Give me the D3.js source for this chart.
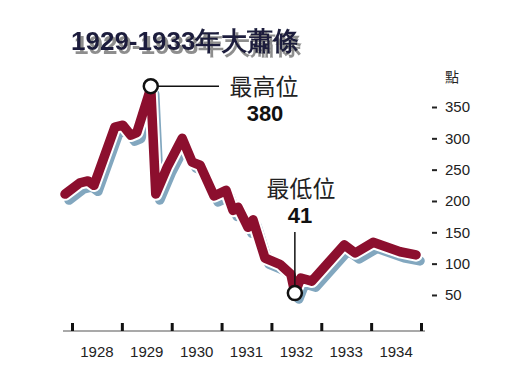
<!DOCTYPE html>
<html><head><meta charset="utf-8">
<script src="https://cdn.jsdelivr.net/npm/d3@7"></script>
<style>
html,body{margin:0;padding:0;background:#fff;}
svg{display:block;}
</style></head>
<body>
<svg id="c" width="530" height="366"></svg>
<script>
// ---- data ----
const title = "1929-1933年大蕭條";
const unitLabel = "點";
const dates = [1927.86,1928.16,1928.32,1928.44,1928.86,1929.02,1929.18,1929.30,1929.58,1929.68,1929.91,1930.21,1930.41,1930.57,1930.85,1931.09,1931.23,1931.33,1931.53,1931.63,1931.87,1932.17,1932.39,1932.47,1932.59,1932.81,1933.46,1933.68,1934.04,1934.58,1934.90];
const values = [211,229,232,225,318,321,305,309,380,211,254,300,262,257,208,217,185,190,158,170,109,99,83,53,77,72,130,117,134,119,114];
const yearTicks = [1928,1929,1930,1931,1932,1933,1934,1935];
const yearLabels = ["1928","1929","1930","1931","1932","1933","1934"];
const yTicks = [50,100,150,200,250,300,350];
const peakLabel = ["最高位","380"];
const lowLabel = ["最低位","41"];

// ---- scales ----
const svg = d3.select("#c");
const x = d3.scaleLinear().domain([1928,1935]).range([72,421]);
const y = d3.scaleLinear().domain([0,350]).range([326.3,107]);
const pts = dates.map((d,i)=>[d,values[i]]);
const line = d3.line().x(d=>x(d[0])).y(d=>y(d[1]));

// ---- defs ----
const defs = svg.append("defs");
const f = defs.append("filter").attr("id","tsh").attr("x","-5%").attr("y","-20%").attr("width","115%").attr("height","150%");
f.append("feDropShadow").attr("dx",3).attr("dy",4).attr("stdDeviation",0.6).attr("flood-color","#8e8e8e").attr("flood-opacity",1);

// ---- title ----
svg.append("text").attr("x",71).attr("y",50)
  .attr("font-family","Liberation Sans, Arial, sans-serif").attr("font-weight","bold").attr("font-size",26)
  .attr("fill","#1d1f3c").attr("filter","url(#tsh)").text(title);

// ---- line with shadow ----
const common = p => p.attr("fill","none").attr("stroke-linejoin","round").attr("stroke-linecap","round");
svg.append("path").datum(pts).attr("d",line).attr("transform","translate(4,6)")
  .call(common).attr("stroke","#82a7bf").attr("stroke-width",9.5);
svg.append("path").datum(pts).attr("d",line)
  .call(common).attr("stroke","#fff").attr("stroke-width",13.5);
svg.append("path").datum(pts).attr("d",line)
  .call(common).attr("stroke","#8c0f2e").attr("stroke-width",9.5);

// ---- y axis ----
const ya = svg.append("g").attr("transform","translate(432,0)")
  .call(d3.axisRight(y).tickValues(yTicks).tickSize(5).tickPadding(8));
ya.select(".domain").remove();
ya.selectAll(".tick line").attr("stroke","#222").attr("stroke-width",2);
ya.selectAll(".tick text").attr("font-family","Liberation Sans, Arial, sans-serif").attr("font-size",15).attr("fill","#222");
svg.append("text").attr("x",452).attr("y",82).attr("text-anchor","middle")
  .attr("font-family","Noto Sans CJK TC, sans-serif").attr("font-size",14).attr("fill","#222").text(unitLabel);

// ---- x axis ----
svg.append("line").attr("x1",63).attr("x2",425).attr("y1",331).attr("y2",331).attr("stroke","#555").attr("stroke-width",1.2);
const xa = svg.append("g").attr("transform","translate(0,331)")
  .call(d3.axisTop(x).tickValues(yearTicks).tickSize(8).tickFormat(""));
xa.select(".domain").remove();
xa.selectAll(".tick line").attr("stroke","#111").attr("stroke-width",3);
svg.append("g").selectAll("text").data(yearLabels).join("text")
  .attr("x",d=>x(+d+0.5)).attr("y",357).attr("text-anchor","middle")
  .attr("font-family","Liberation Sans Narrow, Arial Narrow, Liberation Sans, sans-serif").attr("font-size",15).attr("fill","#222")
  .text(d=>d);

// ---- annotations ----
const iMax = values.indexOf(d3.max(values));
const iMin = values.indexOf(d3.min(values));
const px = x(dates[iMax]), py = y(values[iMax]);
const lx = x(dates[iMin]), ly = y(values[iMin]);
svg.append("line").attr("x1",px).attr("x2",219).attr("y1",py-2).attr("y2",py-2).attr("stroke","#111").attr("stroke-width",1.5);
svg.append("line").attr("x1",lx).attr("x2",lx).attr("y1",232).attr("y2",ly).attr("stroke","#111").attr("stroke-width",1.5);
svg.append("circle").attr("cx",px).attr("cy",py-2).attr("r",7).attr("fill","#fff").attr("stroke","#111").attr("stroke-width",2.5);
svg.append("circle").attr("cx",lx).attr("cy",ly).attr("r",7).attr("fill","#fff").attr("stroke","#111").attr("stroke-width",2.5);

const cjk = "Noto Sans CJK TC, sans-serif";
svg.append("text").attr("x",264).attr("y",95).attr("text-anchor","middle").attr("font-family",cjk).attr("font-size",23).attr("fill","#222").text(peakLabel[0]);
svg.append("text").attr("x",265).attr("y",121).attr("text-anchor","middle").attr("font-family","Liberation Sans, Arial, sans-serif").attr("font-weight","bold").attr("font-size",22).attr("fill","#111").text(peakLabel[1]);
svg.append("text").attr("x",301).attr("y",197).attr("text-anchor","middle").attr("font-family",cjk).attr("font-size",23).attr("fill","#222").text(lowLabel[0]);
svg.append("text").attr("x",300).attr("y",223).attr("text-anchor","middle").attr("font-family","Liberation Sans, Arial, sans-serif").attr("font-weight","bold").attr("font-size",22).attr("fill","#111").text(lowLabel[1]);
</script>
</body></html>
